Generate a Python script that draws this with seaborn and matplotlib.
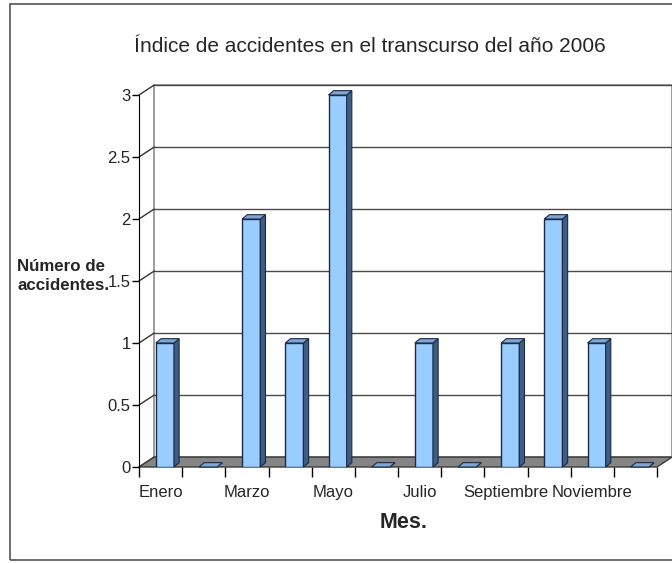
import numpy as np
import pandas as pd
import matplotlib.pyplot as plt
import seaborn as sns
from matplotlib.patches import Polygon, Rectangle
from matplotlib.ticker import FixedLocator

months = ['Enero', 'Febrero', 'Marzo', 'Abril', 'Mayo', 'Junio', 'Julio',
          'Agosto', 'Septiembre', 'Octubre', 'Noviembre', 'Diciembre']
accidents = [1, 0, 2, 1, 3, 0, 1, 0, 1, 2, 1, 0]
shown_labels = ['Enero', '', 'Marzo', '', 'Mayo', '', 'Julio', '',
                'Septiembre', '', 'Noviembre', '']
y_ticks = [0, 0.5, 1, 1.5, 2, 2.5, 3]
y_labels = ['0', '0.5', '1', '1.5', '2', '2.5', '3']

sns.set_style('white')
plt.rcParams['font.family'] = ['Liberation Sans', 'DejaVu Sans']

df = pd.DataFrame({'mes': months, 'accidentes': accidents})

fig = plt.figure(figsize=(6.72, 5.63), dpi=100)
ax = fig.add_axes([139 / 672, 96 / 563, 518 / 672, 372 / 563])

# pseudo 3D depth (data units)
DX, DY = 0.35, 0.08
BX, BY = 0.12, 0.035
front = '#99CCFF'
side = '#3F5C82'
top = '#7FA6D6'
edge = '#1C2B45'

sns.barplot(data=df, x='mes', y='accidentes', width=0.42, color=front,
            edgecolor=edge, linewidth=1, saturation=1, ax=ax, zorder=5)

ax.set_xlim(-0.5, 11.5)
ax.set_ylim(0, 3)

# back wall + gridlines
ax.add_patch(Rectangle((-0.5 + DX, DY), 12, 3, facecolor='white',
                       edgecolor='#8c8c8c', lw=1.2, clip_on=False, zorder=0))
for yv in y_ticks[1:]:
    ax.plot([-0.5 + DX, 11.5 + DX], [yv + DY, yv + DY], color='#4a4a4a',
            lw=1, clip_on=False, zorder=1)
for yv in y_ticks:
    ax.plot([-0.5, -0.5 + DX], [yv, yv + DY], color='#333333', lw=1,
            clip_on=False, zorder=2)

# floor
ax.add_patch(Polygon([(-0.5, 0), (11.5, 0), (11.5 + DX, DY), (-0.5 + DX, DY)],
                     closed=True, facecolor='#858585', edgecolor='#3a3a3a',
                     lw=1, clip_on=False, zorder=3))

# shift bars a little into depth and add side/top faces
for p in ax.patches:
    if not isinstance(p, Rectangle) or p.get_zorder() != 5:
        continue
    p.set_x(p.get_x() + 0.1)
    x, w, h = p.get_x(), p.get_width(), p.get_height()
    ax.add_patch(Polygon([(x + w, 0), (x + w + BX, BY), (x + w + BX, h + BY), (x + w, h)],
                         closed=True, facecolor=side, edgecolor=edge, lw=0.8,
                         clip_on=False, zorder=6))
    ax.add_patch(Polygon([(x, h), (x + w, h), (x + w + BX, h + BY), (x + BX, h + BY)],
                         closed=True, facecolor=top, edgecolor=edge, lw=0.8,
                         clip_on=False, zorder=6))

# axes styling
for s in ['top', 'right', 'bottom']:
    ax.spines[s].set_visible(False)
ax.spines['left'].set_color('black')
ax.spines['left'].set_zorder(4)
ax.set_yticks(y_ticks)
ax.set_yticklabels(y_labels)
ax.set_xticks(range(12))
ax.set_xticklabels(shown_labels)
ax.xaxis.set_minor_locator(FixedLocator(np.arange(-0.5, 12, 1)))
ax.tick_params(axis='x', which='major', length=0, pad=13, labelsize=12)
ax.tick_params(axis='x', which='minor', bottom=True, length=7, width=1,
               color='black', direction='out')
ax.tick_params(axis='y', left=True, length=5, width=1, color='black',
               direction='out', labelsize=12, pad=1)
ax.set_xlabel('')
ax.set_ylabel('')

# text
fig.text(0.551, 1 - 47 / 563, 'Índice de accidentes en el transcurso del año 2006',
         ha='center', va='center', fontsize=15)
fig.text(0.6, 1 - 523 / 563, 'Mes.', ha='center', va='center',
         fontsize=15.5, fontweight='bold')
fig.text(17 / 672, 1 - 276 / 563, 'Número de\naccidentes.', ha='left',
         va='center', fontsize=12.2, fontweight='bold', linespacing=1.35)

# outer frame
fig.patches.append(Rectangle((10 / 672, 3 / 563), 1.0, 556 / 563,
                             transform=fig.transFigure, fill=False,
                             edgecolor='#555555', lw=1.2))

fig.savefig('out.png', dpi=100)
